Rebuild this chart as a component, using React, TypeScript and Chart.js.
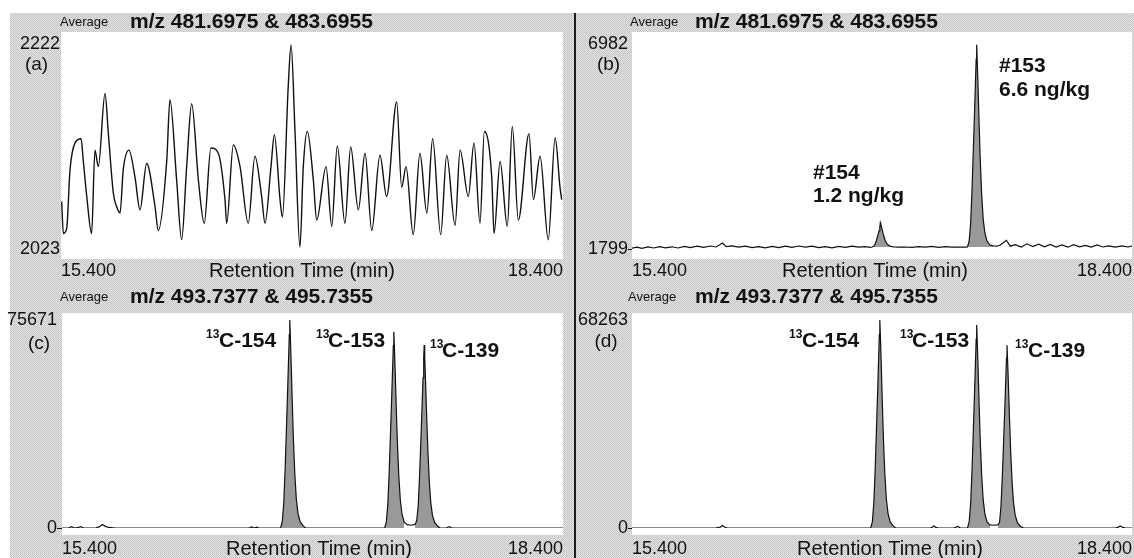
import React, { useEffect, useRef } from 'react';
import { Chart, registerables } from 'chart.js';

Chart.register(...registerables);

const FONT = '"Liberation Sans", Arial, Helvetica, sans-serif';

// ---------------- data ----------------
const timeRange = [15.4, 18.4];
const xTickLabels = ['15.400', '18.400'];
const xTitle = 'Retention Time (min)';
const headerTop = 'm/z 481.6975 & 483.6955';
const headerBottom = 'm/z 493.7377 & 495.7355';

// (a) blank / noise trace
const aTimes = [
  15.404, 15.414, 15.434, 15.454, 15.484, 15.520, 15.533, 15.554, 15.583, 15.603,
  15.623, 15.663, 15.683, 15.713, 15.733, 15.753, 15.772, 15.806, 15.842, 15.872,
  15.912, 15.962, 15.981, 16.032, 16.051, 16.091, 16.121, 16.151, 16.181, 16.221,
  16.256, 16.296, 16.340, 16.380, 16.390, 16.430, 16.470, 16.519, 16.559, 16.599,
  16.619, 16.655, 16.675, 16.709, 16.723, 16.758, 16.775, 16.798, 16.828, 16.848,
  16.872, 16.908, 16.928, 16.984, 17.018, 17.051, 17.097, 17.131, 17.177, 17.217,
  17.257, 17.306, 17.346, 17.406, 17.436, 17.462, 17.505, 17.545, 17.586, 17.621,
  17.669, 17.705, 17.755, 17.785, 17.834, 17.868, 17.904, 17.930, 17.974, 17.988,
  18.024, 18.067, 18.097, 18.133, 18.197, 18.223, 18.263, 18.312, 18.353, 18.382, 18.392,
];
const aValues = [
  2069, 2038, 2043, 2100, 2126, 2130, 2109, 2074, 2038, 2119,
  2103, 2174, 2135, 2077, 2064, 2058, 2100, 2119, 2093, 2061,
  2106, 2064, 2041, 2109, 2168, 2090, 2032, 2103, 2164, 2090,
  2048, 2121, 2116, 2071, 2048, 2124, 2103, 2048, 2113, 2074,
  2048, 2103, 2134, 2071, 2054, 2181, 2221, 2139, 2025, 2103,
  2137, 2090, 2051, 2103, 2045, 2123, 2048, 2122, 2061, 2116,
  2041, 2114, 2074, 2166, 2083, 2103, 2037, 2116, 2058, 2130,
  2037, 2114, 2046, 2119, 2074, 2126, 2048, 2137, 2093, 2038,
  2108, 2045, 2142, 2051, 2135, 2071, 2113, 2032, 2131, 2083, 2071,
];
const aRange = [2023, 2222];

// (b) sample, native congeners #154 and #153
const bTimes = [
  15.400, 15.430, 15.460, 15.495, 15.530, 15.565, 15.600, 15.640, 15.675, 15.715,
  15.750, 15.790, 15.830, 15.870, 15.905, 15.943, 15.965, 16.000, 16.040, 16.080,
  16.120, 16.160, 16.200, 16.240, 16.280, 16.320, 16.360, 16.400, 16.440, 16.480,
  16.520, 16.560, 16.600, 16.640, 16.680, 16.720, 16.760, 16.800, 16.830,
  16.840, 16.850, 16.859, 16.867, 16.875, 16.882, 16.887, 16.890, 16.893, 16.898,
  16.905, 16.912, 16.920, 16.929, 16.939, 16.952, 16.970,
  17.000, 17.040, 17.080, 17.120, 17.160, 17.200, 17.240, 17.280, 17.320, 17.360, 17.400,
  17.413, 17.423, 17.432, 17.440, 17.448, 17.455, 17.461, 17.465, 17.468, 17.471,
  17.476, 17.483, 17.490, 17.498, 17.507, 17.517, 17.530, 17.548, 17.565,
  17.590, 17.610, 17.646, 17.670, 17.700, 17.735, 17.770, 17.805, 17.840, 17.875,
  17.910, 17.945, 17.980, 18.015, 18.050, 18.085, 18.120, 18.155, 18.190, 18.225,
  18.260, 18.300, 18.340, 18.375, 18.400,
];
const bValues = [
  1820, 1845, 1815, 1850, 1825, 1860, 1830, 1855, 1825, 1865,
  1835, 1870, 1840, 1875, 1850, 1950, 1860, 1880, 1845, 1870,
  1835, 1860, 1830, 1865, 1835, 1870, 1840, 1875, 1845, 1870,
  1835, 1860, 1830, 1865, 1840, 1870, 1845, 1860, 1840,
  1850, 1866, 1922, 2020, 2144, 2255, 2353, 2464, 2420, 2340,
  2218, 2107, 2008, 1934, 1891, 1866, 1850,
  1845, 1850, 1840, 1860, 1845, 1865, 1840, 1860, 1845, 1850, 1845,
  1850, 2000, 2460, 3280, 4300, 5220, 6040, 6600, 6960, 6600,
  5940, 4920, 3990, 3180, 2560, 2210, 2000, 1900, 1880,
  1870, 1900, 2020, 1870, 1910, 1850, 1930, 1860, 1920, 1855,
  1915, 1850, 1900, 1845, 1910, 1855, 1890, 1845, 1900, 1850,
  1880, 1845, 1880, 1850, 1870,
];
const bRange = [1799, 6982];
const bPeakWindows = [[16.84, 16.97], [17.413, 17.565]];
const bFillBase = 1848;

// (c) labelled standards
const cTimes = [
  15.400, 15.440, 15.457, 15.475, 15.500, 15.511, 15.530, 15.600, 15.625, 15.641,
  15.660, 15.680, 15.720, 16.520, 16.535, 16.550, 16.565, 16.580, 16.709,
  16.719, 16.728, 16.736, 16.744, 16.751, 16.757, 16.761, 16.764, 16.767, 16.772,
  16.779, 16.786, 16.794, 16.803, 16.813, 16.826, 16.844, 16.859,
  17.332, 17.342, 17.351, 17.359, 17.367, 17.374, 17.380, 17.384, 17.387, 17.390,
  17.395, 17.402, 17.409, 17.417, 17.426, 17.436, 17.449, 17.467, 17.490,
  17.514, 17.524, 17.533, 17.541, 17.549, 17.556, 17.562, 17.566, 17.569, 17.572,
  17.577, 17.584, 17.591, 17.599, 17.608, 17.618, 17.631, 17.649, 17.664,
  17.700, 17.720, 17.735, 18.400,
];
const cValues = [
  0, 0, 500, 0, 200, 500, 0, 0, 500, 1300,
  600, 200, 0, 0, 400, 0, 300, 0, 0,
  2300, 9100, 21200, 36300, 49900, 62000, 70400, 75671, 70400, 60500,
  45400, 31800, 19700, 10600, 5300, 2300, 760, 0,
  0, 2100, 8600, 20000, 34300, 47100, 58500, 66400, 71400, 66400,
  57100, 42800, 30000, 18600, 10000, 5000, 2100, 1200, 1000,
  1300, 2600, 8000, 18600, 32000, 44000, 54600, 62000, 66600, 62000,
  53300, 40000, 28000, 17300, 9300, 4700, 2000, 700, 0,
  0, 500, 0, 0,
];
const cRange = [0, 75671];
const cPeakWindows = [[16.709, 16.859], [17.332, 17.449], [17.514, 17.664]];

// (d) labelled standards
const dTimes = [
  15.400, 15.900, 15.930, 15.943, 15.955, 15.970, 16.832,
  16.842, 16.851, 16.859, 16.867, 16.874, 16.880, 16.884, 16.887, 16.890, 16.895,
  16.902, 16.909, 16.917, 16.926, 16.936, 16.949, 16.967, 16.982,
  17.190, 17.205, 17.212, 17.222, 17.240, 17.330, 17.345, 17.355, 17.370, 17.413,
  17.423, 17.432, 17.440, 17.448, 17.455, 17.461, 17.465, 17.468, 17.471, 17.476,
  17.483, 17.490, 17.498, 17.507, 17.517, 17.530, 17.548, 17.565, 17.595,
  17.605, 17.614, 17.622, 17.630, 17.637, 17.643, 17.647, 17.650, 17.653, 17.658,
  17.665, 17.672, 17.680, 17.689, 17.699, 17.712, 17.730, 17.750,
  18.300, 18.318, 18.330, 18.345, 18.360, 18.400,
];
const dValues = [
  0, 0, 300, 800, 300, 0, 0,
  2000, 8200, 19100, 32800, 45100, 56000, 63500, 68263, 63500, 54600,
  41000, 28700, 17700, 9600, 4800, 2000, 700, 0,
  0, 300, 700, 200, 0, 0, 300, 500, 0, 0,
  2000, 8000, 18600, 32000, 44000, 54600, 62000, 66600, 62000, 53300,
  40000, 28000, 17300, 9300, 4700, 2000, 1000, 900, 1000,
  1800, 7200, 16800, 28800, 39600, 49200, 55800, 60000, 55800, 48000,
  36000, 25200, 15600, 8400, 4200, 1800, 600, 0,
  0, 300, 700, 200, 0, 0,
];
const dRange = [0, 68263];
const dPeakWindows = [[16.832, 16.982], [17.413, 17.548], [17.595, 17.75]];

// ---------------- layout ----------------
type TextItem = { text: string; x: number; y: number; font: string; align?: CanvasTextAlign };

type PanelSpec = {
  key: string;
  left: number; top: number; w: number; h: number;
  areaLeft: number; areaRight: number; areaTop: number; areaBottom: number;
  whiteTop: number; whiteBottom: number;
  times: number[]; values: number[]; range: number[];
  windows: number[][]; fillBase: number;
  lineWidth: number; smooth: boolean; tickLen: number; baseMark: boolean; xPad: number;
  texts: TextItem[];
};

const SMALL = '13px ' + FONT;
const BOLD = 'bold 21px ' + FONT;
const SUP = 'bold 12px ' + FONT;
const LABEL = '19px ' + FONT;
const TITLE = '20px ' + FONT;

const panels: PanelSpec[] = [
  {
    key: 'a', left: 0, top: 0, w: 570, h: 282,
    areaLeft: 61, areaRight: 563, areaTop: 44, areaBottom: 249,
    whiteTop: 12, whiteBottom: 10,
    times: aTimes, values: aValues, range: aRange, windows: [], fillBase: 0,
    lineWidth: 1.4, smooth: true, tickLen: 1, baseMark: false, xPad: 11,
    texts: [
      { text: 'Average', x: 60, y: 22, font: SMALL },
      { text: headerTop, x: 130, y: 22, font: BOLD },
      { text: '(a)', x: 36.5, y: 65, font: LABEL, align: 'center' },
      { text: xTitle, x: 302, y: 271, font: TITLE, align: 'center' },
    ],
  },
  {
    key: 'b', left: 577, top: 0, w: 557, h: 282,
    areaLeft: 632, areaRight: 1132, areaTop: 44, areaBottom: 249,
    whiteTop: 12, whiteBottom: 10,
    times: bTimes, values: bValues, range: bRange, windows: bPeakWindows, fillBase: bFillBase,
    lineWidth: 1.2, smooth: false, tickLen: 4, baseMark: true, xPad: 11,
    texts: [
      { text: 'Average', x: 630, y: 22, font: SMALL },
      { text: headerTop, x: 695, y: 22, font: BOLD },
      { text: '(b)', x: 608.5, y: 65, font: LABEL, align: 'center' },
      { text: xTitle, x: 875, y: 271, font: TITLE, align: 'center' },
      { text: '#154', x: 813, y: 173.5, font: BOLD },
      { text: '1.2 ng/kg', x: 813, y: 196, font: BOLD },
      { text: '#153', x: 999, y: 66, font: BOLD },
      { text: '6.6 ng/kg', x: 999, y: 90, font: BOLD },
    ],
  },
  {
    key: 'c', left: 0, top: 282, w: 570, h: 276,
    areaLeft: 62, areaRight: 563, areaTop: 320, areaBottom: 528,
    whiteTop: 7, whiteBottom: 7,
    times: cTimes, values: cValues, range: cRange, windows: cPeakWindows, fillBase: 0,
    lineWidth: 1.2, smooth: false, tickLen: 5, baseMark: true, xPad: 10,
    texts: [
      { text: 'Average', x: 60, y: 297, font: SMALL },
      { text: headerBottom, x: 130, y: 297, font: BOLD },
      { text: '(c)', x: 39, y: 344, font: LABEL, align: 'center' },
      { text: xTitle, x: 319, y: 549, font: TITLE, align: 'center' },
      { text: '13', x: 206, y: 335, font: SUP },
      { text: 'C-154', x: 219, y: 341, font: BOLD },
      { text: '13', x: 316, y: 335, font: SUP },
      { text: 'C-153', x: 328, y: 341, font: BOLD },
      { text: '13', x: 430, y: 345, font: SUP },
      { text: 'C-139', x: 442, y: 351, font: BOLD },
    ],
  },
  {
    key: 'd', left: 577, top: 282, w: 557, h: 276,
    areaLeft: 632, areaRight: 1132, areaTop: 320, areaBottom: 528,
    whiteTop: 7, whiteBottom: 7,
    times: dTimes, values: dValues, range: dRange, windows: dPeakWindows, fillBase: 0,
    lineWidth: 1.2, smooth: false, tickLen: 4, baseMark: true, xPad: 10,
    texts: [
      { text: 'Average', x: 628, y: 297, font: SMALL },
      { text: headerBottom, x: 695, y: 297, font: BOLD },
      { text: '(d)', x: 606, y: 342, font: LABEL, align: 'center' },
      { text: xTitle, x: 890, y: 549, font: TITLE, align: 'center' },
      { text: '13', x: 789, y: 335, font: SUP },
      { text: 'C-154', x: 802, y: 341, font: BOLD },
      { text: '13', x: 900, y: 335, font: SUP },
      { text: 'C-153', x: 912, y: 341, font: BOLD },
      { text: '13', x: 1015, y: 345, font: SUP },
      { text: 'C-139', x: 1028, y: 351, font: BOLD },
    ],
  },
];

// ---------------- chart plumbing ----------------
const decorPlugin = {
  id: 'decor',
  beforeDraw(chart: any, _args: any, opts: any) {
    const { ctx, chartArea: a } = chart;
    ctx.save();
    ctx.fillStyle = '#ffffff';
    ctx.fillRect(a.left, a.top - opts.whiteTop, a.right - a.left, a.bottom - a.top + opts.whiteTop + opts.whiteBottom);
    ctx.restore();
  },
  afterDraw(chart: any, _args: any, opts: any) {
    const ctx = chart.ctx;
    ctx.save();
    ctx.fillStyle = '#111111';
    ctx.textBaseline = 'middle';
    (opts.texts as TextItem[]).forEach((t) => {
      ctx.font = t.font;
      ctx.textAlign = t.align || 'left';
      ctx.fillText(t.text, t.x - opts.offX, t.y - opts.offY);
    });
    ctx.restore();
  },
};

function buildConfig(p: PanelSpec): any {
  const pts = p.times.map((t, i) => ({ x: t, y: p.values[i] }));
  const datasets: any[] = p.windows.map(([t0, t1]) => ({
    data: pts.filter((pt) => pt.x >= t0 && pt.x <= t1),
    fill: { value: p.fillBase },
    backgroundColor: '#999999',
    borderColor: 'rgba(0,0,0,0)',
    borderWidth: 0,
    pointRadius: 0,
    tension: 0,
    order: 2,
  }));
  datasets.push({
    data: pts,
    fill: false,
    borderColor: '#111111',
    borderWidth: p.lineWidth,
    pointRadius: 0,
    tension: 0,
    cubicInterpolationMode: p.smooth ? 'monotone' : 'default',
    order: 1,
  });
  const yW = p.areaLeft - p.left;
  const xH = p.top + p.h - p.areaBottom;
  const [yMin, yMax] = p.range;
  return {
    type: 'line',
    data: { datasets },
    plugins: [decorPlugin],
    options: {
      animation: false,
      responsive: false,
      events: [],
      layout: {
        padding: { left: 0, right: p.left + p.w - p.areaRight, top: p.areaTop - p.top, bottom: 0 },
      },
      plugins: {
        legend: { display: false },
        tooltip: { enabled: false },
        decor: {
          whiteTop: p.whiteTop,
          whiteBottom: p.whiteBottom,
          texts: p.texts,
          offX: p.left,
          offY: p.top,
        },
      },
      scales: {
        x: {
          type: 'linear',
          position: 'bottom',
          min: timeRange[0],
          max: timeRange[1],
          afterBuildTicks: (s: any) => {
            s.ticks = timeRange.map((v) => ({ value: v }));
          },
          afterFit: (s: any) => {
            s.height = xH;
          },
          ticks: {
            callback: (_v: any, i: number) => xTickLabels[i],
            align: 'inner',
            padding: 0,
            maxRotation: 0,
            autoSkip: false,
            color: '#111111',
            font: { family: FONT, size: 18 },
          },
          grid: {
            display: true,
            drawOnChartArea: false,
            drawTicks: true,
            tickLength: p.xPad,
            color: 'rgba(0,0,0,0)',
          },
          border: { display: false },
        },
        y: {
          type: 'linear',
          position: 'left',
          min: yMin,
          max: yMax,
          afterBuildTicks: (s: any) => {
            s.ticks = [{ value: yMin }, { value: yMax }];
          },
          afterFit: (s: any) => {
            s.width = yW;
          },
          ticks: {
            callback: (v: any) => String(v),
            padding: 0,
            autoSkip: false,
            color: '#111111',
            font: { family: FONT, size: 18 },
          },
          grid: {
            display: true,
            drawOnChartArea: false,
            drawTicks: true,
            tickLength: p.tickLen,
            lineWidth: 1,
            color: (c: any) => (p.baseMark && c.index === 0 ? '#111111' : 'rgba(0,0,0,0)'),
          },
          border: { display: false },
        },
      },
    },
  };
}

function Panel({ spec }: { spec: PanelSpec }) {
  const ref = useRef<HTMLCanvasElement | null>(null);
  useEffect(() => {
    if (!ref.current) return;
    const chart = new Chart(ref.current, buildConfig(spec));
    return () => chart.destroy();
  }, [spec]);
  return (
    <canvas
      ref={ref}
      width={spec.w}
      height={spec.h}
      style={{ position: 'absolute', left: spec.left, top: spec.top, width: spec.w, height: spec.h }}
    />
  );
}

export default function App() {
  return (
    <div
      style={{
        position: 'absolute',
        left: 0,
        top: 0,
        width: 1134,
        height: 558,
        background: '#ffffff',
        overflow: 'hidden',
      }}
    >
      <div
        style={{
          position: 'absolute',
          left: 10,
          top: 13,
          width: 1124,
          height: 545,
          backgroundColor: '#d5d5d5',
          backgroundImage: 'repeating-conic-gradient(#c6c6c6 0% 25%, #e3e3e3 0% 50%)',
          backgroundSize: '2px 2px',
        }}
      />
      <div style={{ position: 'absolute', left: 574, top: 13, width: 2, height: 545, background: '#1e1e1e' }} />
      {panels.map((p) => (
        <Panel key={p.key} spec={p} />
      ))}
    </div>
  );
}
